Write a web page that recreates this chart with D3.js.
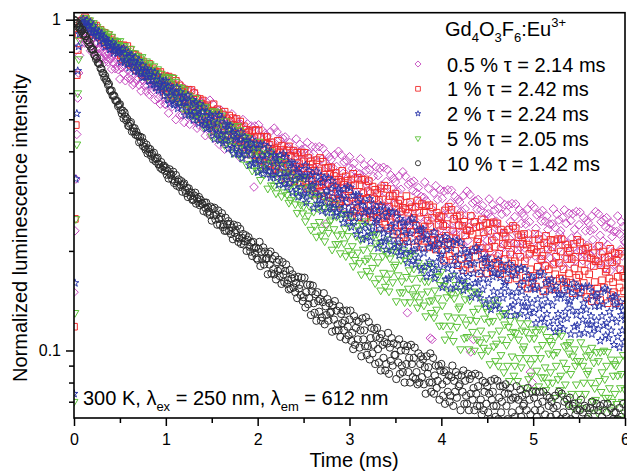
<!DOCTYPE html>
<html>
<head>
<meta charset="utf-8">
<script src="https://cdn.jsdelivr.net/npm/d3@7"></script>
<style>
  html, body { margin: 0; padding: 0; background: #fff; }
  svg { display: block; font-family: "Liberation Sans", Arial, sans-serif; }
</style>
</head>
<body>
<svg id="chart" width="627" height="471"></svg>
<script>
// normalized intensity x1000, one sample every timeStep ms starting at t = 0
// (one line = 0.1 ms)
const timeStep = 0.01

const eu05 = [
  150, 230, 330, 450, 580, 690, 780, 840, 880, 895,
  889, 946, 850, 891, 910, 847, 861, 896, 806, 868,
  879, 826, 797, 847, 773, 847, 818, 789, 819, 761,
  767, 805, 828, 743, 789, 762, 804, 745, 788, 761,
  762, 709, 778, 739, 786, 711, 758, 723, 707, 767,
  662, 762, 716, 778, 688, 729, 654, 775, 706, 667,
  729, 762, 661, 680, 635, 738, 644, 698, 723, 658,
  710, 634, 684, 609, 720, 657, 681, 632, 723, 607,
  631, 708, 594, 651, 680, 606, 630, 680, 573, 655,
  677, 613, 579, 645, 556, 653, 619, 586, 628, 556,
  554, 627, 674, 522, 612, 568, 648, 546, 628, 583,
  589, 499, 624, 558, 644, 514, 599, 541, 515, 624,
  489, 595, 546, 614, 519, 563, 483, 612, 541, 500,
  567, 602, 496, 516, 470, 579, 480, 537, 564, 496,
  552, 471, 526, 446, 565, 499, 525, 474, 571, 448,
  475, 556, 438, 498, 530, 453, 479, 532, 420, 509,
  533, 464, 429, 501, 406, 511, 476, 441, 486, 410,
  424, 481, 519, 399, 470, 435, 500, 419, 484, 449,
  454, 383, 483, 430, 499, 396, 464, 418, 398, 484,
  378, 462, 424, 477, 403, 437, 312, 477, 421, 388,
  446, 481, 380, 401, 357, 463, 369, 425, 453, 388,
  443, 366, 420, 343, 459, 396, 424, 374, 470, 352,
  379, 458, 343, 403, 435, 360, 386, 439, 331, 417,
  442, 375, 341, 412, 319, 425, 391, 357, 402, 328,
  342, 398, 436, 320, 390, 357, 420, 342, 405, 373,
  378, 308, 408, 356, 425, 323, 392, 347, 327, 414,
  307, 393, 355, 411, 335, 371, 308, 413, 356, 325,
  379, 408, 323, 341, 241, 393, 314, 361, 385, 330,
  377, 311, 357, 292, 391, 337, 360, 317, 400, 299,
  322, 390, 292, 343, 371, 307, 329, 375, 281, 356,
  385, 318, 284, 355, 262, 368, 334, 300, 345, 271,
  284, 342, 380, 262, 333, 299, 364, 284, 350, 316,
  321, 251, 352, 300, 369, 268, 336, 291, 271, 359,
  252, 338, 300, 356, 280, 316, 253, 358, 302, 270,
  324, 353, 269, 286, 249, 339, 260, 307, 331, 276,
  323, 257, 304, 238, 337, 284, 307, 264, 347, 246,
  269, 336, 239, 130, 318, 254, 276, 322, 230, 304,
  325, 268, 240, 300, 222, 311, 282, 254, 292, 230,
  241, 290, 323, 222, 283, 254, 309, 242, 109, 269,
  108, 213, 299, 255, 315, 227, 286, 248, 231, 306,
  215, 288, 256, 303, 239, 270, 218, 306, 259, 232,
  279, 305, 231, 247, 215, 292, 225, 266, 286, 239,
  281, 224, 264, 208, 294, 248, 268, 232, 303, 215,
  236, 296, 99, 255, 279, 108, 244, 283, 203, 267,
  286, 237, 212, 266, 197, 274, 250, 225, 259, 205,
  215, 259, 287, 199, 253, 227, 276, 217, 266, 241,
  246, 193, 269, 230, 283, 205, 258, 225, 209, 276,
  196, 262, 232, 275, 218, 245, 198, 278, 235, 211,
  254, 277, 210, 225, 196, 266, 205, 242, 260, 218,
  255, 204, 241, 190, 268, 226, 245, 86, 276, 80,
  216, 271, 193, 234, 257, 206, 224, 260, 187, 246,
  265, 219, 196, 246, 181, 255, 232, 209, 241, 190,
  200, 241, 268, 185, 235, 212, 258, 202, 248, 225,
  230, 180, 252, 216, 266, 192, 242, 210, 197, 260,
  183, 247, 219, 259, 205, 232, 187, 263, 222, 199,
  240, 262, 200, 213, 187, 252, 195, 230, 247, 208,
  243, 195, 230, 180, 255, 216, 233, 201, 263, 188,
  206, 259, 184, 223, 245, 196, 214, 249, 178, 236,
  252, 209, 188, 234, 174, 243, 221, 199, 229, 182,
  190, 229, 255, 177, 225, 202, 245, 193, 237, 215,
  212
]

const eu1 = [
  118, 250, 480, 680, 810, 900, 950, 975, 990, 996,
  982, 1004, 1017, 957, 985, 965, 990, 949, 973, 953,
  952, 907, 960, 926, 960, 898, 932, 902, 886, 932,
  866, 912, 885, 913, 866, 883, 843, 899, 862, 840,
  867, 880, 828, 834, 810, 857, 809, 832, 841, 807,
  838, 780, 815, 758, 837, 789, 805, 766, 832, 745,
  761, 812, 731, 769, 789, 734, 748, 782, 705, 761,
  774, 727, 701, 747, 681, 748, 722, 697, 724, 673,
  679, 714, 735, 656, 699, 675, 713, 660, 699, 674,
  675, 628, 689, 654, 695, 627, 668, 637, 622, 675,
  594, 663, 629, 673, 609, 636, 582, 666, 618, 589,
  632, 653, 582, 594, 563, 633, 567, 604, 620, 573,
  610, 556, 590, 537, 614, 569, 585, 550, 613, 531,
  547, 600, 520, 559, 578, 526, 541, 576, 500, 557,
  570, 525, 501, 546, 484, 551, 526, 503, 531, 481,
  482, 526, 555, 461, 515, 488, 536, 472, 522, 494,
  497, 442, 517, 476, 527, 449, 500, 465, 448, 513,
  432, 494, 464, 504, 447, 473, 425, 501, 458, 433,
  472, 492, 428, 439, 411, 476, 417, 450, 465, 424,
  457, 407, 441, 391, 462, 423, 438, 406, 464, 390,
  403, 462, 375, 419, 442, 386, 405, 443, 362, 425,
  442, 393, 367, 419, 351, 426, 401, 376, 408, 354,
  363, 404, 430, 345, 395, 370, 416, 358, 405, 379,
  383, 332, 402, 365, 414, 339, 388, 355, 341, 402,
  325, 386, 359, 396, 342, 368, 323, 397, 355, 332,
  373, 396, 326, 340, 310, 382, 317, 355, 373, 328,
  366, 312, 350, 296, 376, 332, 350, 316, 382, 299,
  318, 372, 293, 334, 356, 304, 321, 357, 283, 341,
  358, 312, 288, 337, 273, 344, 321, 297, 328, 277,
  286, 324, 349, 270, 317, 294, 336, 283, 326, 303,
  307, 253, 329, 290, 342, 264, 316, 282, 267, 333,
  253, 316, 287, 328, 272, 299, 252, 329, 287, 263,
  303, 325, 260, 274, 246, 313, 253, 288, 306, 264,
  299, 250, 285, 235, 309, 270, 286, 254, 315, 240,
  257, 308, 234, 272, 293, 244, 261, 294, 225, 280,
  298, 252, 229, 278, 214, 285, 263, 239, 270, 220,
  229, 267, 293, 214, 261, 239, 281, 228, 271, 249,
  252, 205, 272, 238, 284, 216, 261, 231, 218, 277,
  205, 262, 237, 273, 224, 247, 205, 275, 237, 216,
  252, 271, 215, 226, 202, 261, 208, 240, 255, 219,
  253, 201, 238, 187, 265, 222, 241, 208, 272, 193,
  211, 266, 188, 229, 250, 200, 218, 254, 181, 239,
  256, 212, 189, 238, 175, 245, 223, 200, 231, 182,
  191, 230, 255, 177, 224, 202, 245, 192, 236, 213,
  217, 171, 237, 204, 249, 182, 228, 197, 185, 243,
  171, 230, 204, 242, 190, 215, 173, 244, 206, 184,
  221, 242, 183, 196, 170, 232, 178, 210, 227, 189,
  221, 177, 208, 164, 232, 195, 211, 183, 238, 170,
  186, 234, 165, 201, 220, 176, 192, 223, 159, 210,
  225, 186, 166, 209, 154, 215, 196, 176, 203, 160,
  168, 202, 225, 156, 198, 179, 217, 170, 208, 189,
  193, 151, 211, 180, 222, 160, 202, 176, 163, 216,
  153, 205, 182, 215, 170, 192, 155, 217, 184, 165,
  199, 217, 165, 176, 153, 209, 161, 189, 204, 171,
  200, 160, 189, 149, 210, 177, 192, 166, 216, 155,
  169, 212, 150, 183, 201, 160, 174, 203, 145, 191,
  205, 170, 152, 190, 141, 197, 180, 161, 186, 147,
  154, 186, 207, 142, 181, 163, 199, 155, 191, 173,
  176, 139, 192, 165, 203, 147, 185, 161, 150, 197,
  139, 187, 167, 196, 155, 176, 142, 199, 168, 151,
  166
]

const eu2 = [
  74, 160, 330, 520, 700, 830, 905, 945, 968, 980,
  1005, 958, 983, 936, 995, 956, 965, 934, 982, 911,
  922, 960, 894, 921, 934, 889, 898, 922, 859, 900,
  908, 869, 848, 881, 828, 877, 856, 834, 853, 812,
  815, 840, 855, 793, 824, 805, 833, 791, 819, 799,
  800, 745, 815, 774, 820, 743, 789, 753, 735, 796,
  715, 773, 743, 779, 722, 745, 697, 768, 725, 699,
  734, 751, 689, 698, 669, 728, 670, 700, 713, 672,
  701, 654, 682, 635, 699, 660, 673, 641, 694, 622,
  636, 678, 611, 642, 658, 613, 624, 652, 588, 634,
  654, 603, 576, 627, 557, 631, 604, 577, 608, 553,
  560, 599, 624, 539, 586, 561, 604, 546, 589, 564,
  565, 514, 582, 544, 591, 517, 563, 530, 514, 573,
  497, 554, 526, 562, 508, 531, 486, 556, 515, 492,
  526, 544, 485, 495, 468, 526, 472, 501, 515, 476,
  510, 455, 492, 436, 515, 470, 487, 452, 516, 432,
  450, 503, 424, 463, 483, 431, 447, 482, 407, 464,
  478, 433, 410, 455, 393, 460, 436, 413, 441, 392,
  399, 434, 457, 381, 424, 403, 442, 390, 430, 407,
  409, 363, 425, 392, 434, 368, 410, 380, 367, 421,
  346, 409, 379, 420, 363, 389, 342, 418, 376, 351,
  391, 412, 348, 360, 333, 397, 339, 373, 389, 348,
  382, 333, 367, 317, 389, 350, 366, 335, 393, 319,
  335, 385, 312, 348, 368, 321, 337, 369, 300, 354,
  368, 327, 306, 348, 291, 354, 333, 312, 338, 293,
  297, 337, 363, 280, 329, 305, 349, 293, 338, 314,
  317, 269, 337, 301, 348, 278, 323, 292, 278, 337,
  264, 322, 296, 333, 281, 304, 261, 332, 293, 271,
  307, 326, 269, 280, 255, 314, 261, 292, 307, 270,
  301, 257, 287, 243, 308, 272, 288, 259, 313, 246,
  259, 310, 236, 273, 294, 245, 262, 295, 225, 280,
  295, 253, 231, 275, 217, 282, 261, 240, 267, 221,
  229, 264, 287, 214, 257, 237, 276, 227, 266, 245,
  248, 204, 265, 233, 275, 213, 255, 226, 214, 267,
  202, 253, 229, 263, 217, 238, 200, 262, 229, 209,
  242, 260, 206, 217, 194, 250, 199, 229, 244, 209,
  238, 196, 225, 184, 246, 212, 226, 199, 251, 187,
  201, 243, 182, 214, 231, 191, 204, 232, 175, 220,
  233, 197, 179, 217, 167, 223, 205, 186, 211, 171,
  178, 207, 228, 165, 202, 185, 218, 176, 210, 192,
  195, 155, 212, 183, 221, 164, 202, 177, 165, 216,
  154, 204, 181, 213, 170, 191, 155, 215, 182, 164,
  195, 212, 163, 173, 152, 203, 158, 185, 197, 167,
  193, 156, 182, 145, 200, 171, 183, 160, 205, 149,
  161, 200, 144, 173, 188, 153, 165, 190, 138, 180,
  191, 160, 143, 177, 133, 183, 167, 151, 172, 137,
  144, 171, 188, 134, 166, 151, 181, 144, 174, 158,
  161, 128, 175, 151, 183, 135, 168, 146, 137, 178,
  128, 169, 150, 176, 141, 158, 129, 178, 151, 136,
  162, 176, 136, 144, 127, 169, 132, 154, 165, 139,
  161, 130, 153, 121, 168, 143, 154, 134, 173, 125,
  137, 169, 122, 147, 160, 129, 140, 162, 118, 153,
  164, 137, 123, 152, 114, 157, 144, 129, 148, 118,
  124, 148, 163, 116, 144, 131, 157, 125, 151, 138,
  141, 112, 153, 132, 160, 118, 146, 128, 119, 156,
  112, 148, 132, 155, 124, 139, 113, 156, 133, 120,
  143, 156, 120, 127, 112, 150, 117, 136, 146, 123,
  144, 116, 136, 107, 150, 127, 138, 119, 154, 111,
  121, 152, 109, 131, 143, 115, 125, 145, 104, 137,
  146, 122, 110, 136, 102, 140, 128, 115, 132, 106,
  124
]

const eu5 = [
  70, 130, 250, 420, 600, 760, 870, 930, 965, 985,
  970, 1012, 988, 1012, 968, 984, 946, 997, 962, 941,
  966, 978, 928, 934, 909, 953, 907, 928, 936, 903,
  924, 885, 906, 867, 916, 884, 892, 867, 905, 848,
  857, 889, 834, 856, 867, 830, 838, 858, 805, 840,
  863, 810, 782, 832, 759, 833, 805, 776, 807, 749,
  756, 794, 817, 732, 778, 751, 793, 734, 777, 750,
  750, 698, 765, 726, 772, 697, 742, 708, 691, 749,
  672, 728, 699, 734, 679, 701, 656, 724, 683, 658,
  692, 709, 649, 658, 631, 687, 632, 661, 674, 634,
  669, 609, 646, 587, 671, 622, 638, 600, 668, 577,
  596, 650, 566, 605, 626, 570, 586, 622, 541, 600,
  615, 566, 540, 587, 520, 591, 565, 539, 568, 514,
  522, 558, 581, 501, 546, 521, 561, 506, 548, 523,
  524, 476, 540, 504, 546, 478, 520, 489, 473, 529,
  444, 518, 483, 529, 461, 492, 436, 525, 474, 444,
  490, 514, 438, 452, 418, 494, 424, 463, 482, 432,
  471, 415, 452, 395, 476, 430, 448, 411, 477, 392,
  410, 464, 382, 423, 444, 390, 406, 442, 365, 424,
  439, 392, 367, 415, 350, 420, 396, 371, 401, 349,
  351, 397, 428, 328, 386, 357, 408, 341, 393, 364,
  367, 309, 389, 346, 400, 316, 370, 333, 315, 385,
  299, 364, 333, 374, 315, 343, 293, 372, 327, 301,
  341, 362, 296, 309, 280, 346, 285, 319, 336, 293,
  327, 277, 311, 261, 332, 293, 308, 276, 334, 260,
  273, 331, 246, 289, 311, 256, 274, 312, 232, 295,
  310, 263, 238, 287, 221, 294, 269, 245, 275, 223,
  232, 270, 295, 214, 262, 239, 281, 227, 270, 246,
  249, 202, 267, 233, 278, 210, 254, 223, 210, 267,
  197, 251, 225, 259, 211, 234, 193, 258, 222, 200,
  237, 258, 195, 207, 180, 246, 188, 222, 238, 198,
  231, 184, 216, 170, 241, 202, 218, 187, 246, 174,
  190, 237, 168, 204, 223, 178, 193, 224, 160, 211,
  225, 185, 165, 208, 152, 213, 193, 172, 200, 156,
  164, 196, 217, 151, 190, 171, 207, 161, 199, 179,
  182, 141, 199, 169, 207, 150, 188, 162, 150, 201,
  140, 187, 167, 196, 154, 175, 140, 197, 165, 148,
  177, 193, 146, 155, 135, 184, 140, 166, 178, 148,
  173, 137, 162, 127, 180, 151, 162, 141, 183, 130,
  142, 177, 126, 152, 167, 133, 144, 168, 119, 158,
  173, 137, 119, 157, 108, 163, 145, 127, 151, 112,
  119, 148, 168, 107, 144, 126, 158, 118, 151, 134,
  136, 101, 151, 126, 160, 109, 143, 120, 110, 155,
  101, 142, 124, 150, 114, 131, 100, 151, 123, 108,
  134, 148, 106, 115, 97, 140, 102, 125, 135, 109,
  131, 100, 122, 91, 137, 112, 123, 103, 142, 93,
  105, 137, 90, 115, 127, 97, 108, 129, 86, 120,
  130, 104, 90, 118, 81, 123, 110, 96, 114, 84,
  90, 113, 127, 81, 108, 95, 121, 89, 115, 101,
  103, 77, 114, 95, 121, 82, 109, 91, 84, 116,
  76, 109, 95, 114, 87, 101, 78, 116, 95, 83,
  104, 116, 83, 89, 76, 110, 80, 98, 107, 86,
  104, 80, 97, 72, 110, 90, 99, 82, 113, 76,
  84, 111, 73, 92, 103, 79, 88, 104, 69, 98,
  106, 85, 74, 96, 67, 101, 90, 79, 93, 70,
  74, 93, 106, 67, 90, 80, 101, 74, 96, 85,
  87, 65, 97, 80, 102, 70, 92, 77, 71, 99,
  65, 93, 81, 99, 75, 86, 66, 100, 82, 72,
  90, 99, 72, 77, 66, 94, 70, 84, 91, 74,
  90, 69, 84, 62, 94, 77, 85, 70, 97, 65,
  76
]

const eu10 = [
  1001, 977, 991, 971, 978, 947, 954, 935, 922, 933,
  901, 910, 892, 892, 867, 865, 842, 854, 831, 815,
  815, 811, 784, 778, 760, 767, 741, 739, 734, 713,
  711, 690, 689, 668, 676, 657, 651, 635, 639, 613,
  607, 611, 589, 591, 588, 571, 568, 568, 548, 553,
  555, 533, 520, 531, 503, 524, 510, 496, 501, 478,
  477, 485, 490, 459, 471, 460, 470, 449, 458, 447,
  444, 426, 443, 429, 440, 415, 425, 412, 405, 419,
  394, 408, 398, 406, 388, 393, 378, 396, 382, 373,
  380, 383, 365, 366, 357, 371, 353, 360, 362, 349,
  357, 340, 349, 331, 353, 339, 341, 329, 347, 321,
  325, 339, 315, 324, 329, 312, 317, 325, 302, 317,
  320, 306, 299, 310, 291, 309, 301, 293, 300, 285,
  286, 294, 300, 278, 288, 282, 291, 275, 285, 278,
  277, 264, 280, 270, 280, 261, 271, 263, 257, 272,
  247, 268, 256, 270, 249, 257, 240, 265, 250, 240,
  253, 260, 236, 240, 230, 252, 230, 241, 246, 230,
  241, 225, 235, 217, 240, 227, 231, 220, 238, 213,
  218, 233, 210, 219, 225, 209, 214, 223, 200, 216,
  220, 206, 199, 212, 193, 213, 204, 197, 205, 190,
  188, 203, 213, 180, 199, 189, 205, 182, 199, 189,
  190, 170, 196, 182, 199, 171, 189, 176, 170, 193,
  164, 185, 174, 188, 168, 176, 159, 185, 170, 161,
  174, 182, 159, 163, 153, 175, 154, 165, 170, 155,
  166, 150, 160, 144, 167, 154, 158, 147, 166, 141,
  145, 166, 135, 150, 158, 138, 144, 158, 128, 151,
  157, 139, 130, 148, 123, 150, 141, 131, 143, 123,
  126, 140, 149, 120, 136, 128, 143, 123, 139, 130,
  131, 114, 137, 124, 141, 115, 132, 120, 115, 136,
  110, 129, 121, 132, 115, 123, 108, 132, 118, 111,
  124, 132, 107, 113, 101, 127, 104, 117, 123, 108,
  122, 102, 115, 96, 125, 108, 115, 103, 126, 97,
  103, 122, 94, 109, 117, 98, 104, 116, 91, 110,
  117, 101, 92, 109, 87, 112, 104, 95, 106, 87,
  91, 105, 113, 85, 102, 93, 109, 90, 105, 97,
  97, 82, 104, 92, 108, 85, 100, 90, 86, 104,
  80, 100, 91, 103, 86, 95, 80, 104, 91, 83,
  95, 102, 82, 86, 79, 98, 80, 91, 96, 83,
  94, 79, 89, 74, 96, 85, 89, 80, 98, 75,
  80, 95, 74, 84, 90, 77, 81, 90, 71, 87,
  91, 79, 73, 86, 69, 87, 81, 75, 84, 70,
  73, 83, 90, 68, 81, 75, 86, 72, 84, 78,
  79, 66, 84, 75, 87, 69, 81, 73, 69, 85,
  66, 82, 74, 84, 71, 77, 66, 85, 74, 68,
  78, 84, 68, 71, 64, 81, 66, 75, 80, 69,
  78, 65, 74, 62, 81, 71, 75, 68, 82, 63,
  68, 81, 62, 72, 78, 65, 70, 78, 60, 74,
  79, 68, 62, 74, 59, 77, 71, 65, 72, 60,
  63, 72, 78, 60, 71, 66, 76, 63, 73, 68,
  69, 58, 74, 66, 77, 61, 71, 64, 61, 75,
  58, 72, 66, 75, 63, 69, 59, 75, 66, 61,
  70, 75, 61, 64, 58, 73, 60, 68, 72, 63,
  70, 59, 67, 56, 73, 64, 68, 61, 75, 58,
  62, 74, 57, 65, 70, 59, 63, 71, 55, 68,
  72, 62, 57, 68, 53, 69, 64, 59, 66, 55,
  58, 66, 71, 55, 65, 60, 68, 57, 67, 62,
  63, 53, 67, 60, 70, 56, 66, 59, 57, 69,
  54, 66, 60, 68, 57, 63, 54, 69, 61, 56,
  65, 69, 56, 59, 54, 67, 55, 62, 65, 57,
  65, 55, 62, 52, 67, 59, 63, 56, 69, 54,
  60
]

const concentrations = ['0.5 %', '1 %', '2 %', '5 %', '10 %']
const lifetimes = ['2.14', '2.42', '2.24', '2.05', '1.42']
const xTicks = [0, 1, 2, 3, 4, 5, 6]
const xMinorTicks = [0.5, 1.5, 2.5, 3.5, 4.5, 5.5]
const yTicks = [0.1, 1]
const yMinorTicks = [0.07, 0.08, 0.09, 0.2, 0.3, 0.4, 0.5, 0.6, 0.7, 0.8, 0.9]

// hollow origin-style markers
const symDiamond = {
  draw(ctx, size) {
    const r = Math.sqrt(size) / 2
    ctx.moveTo(0, -r); ctx.lineTo(r, 0); ctx.lineTo(0, r); ctx.lineTo(-r, 0); ctx.closePath()
  },
}
const symTriDown = {
  draw(ctx, size) {
    const r = Math.sqrt(size) / 2
    ctx.moveTo(-r, -0.58 * r); ctx.lineTo(r, -0.58 * r); ctx.lineTo(0, 1.15 * r); ctx.closePath()
  },
}

const series = [
  { values: eu05, color: '#c64cc0', type: symDiamond, size: 74 },
  { values: eu1, color: '#f22b2b', type: d3.symbolSquare, size: 44 },
  { values: eu2, color: '#2c38aa', type: d3.symbolStar, size: 19 },
  { values: eu5, color: '#5cc23a', type: symTriDown, size: 62 },
  { values: eu10, color: '#2a2a2a', type: d3.symbolCircle, size: 42 },
]
const drawOrder = [0, 1, 3, 2, 4]

const svg = d3.select('#chart')
const plot = { left: 74, right: 625, top: 12.7, bottom: 418 }

const x = d3.scaleLinear().domain([0, 6]).range([plot.left, plot.right])
const y = d3.scaleLog().domain([0.0625, 1.05]).range([plot.bottom, plot.top])

svg.append('defs').append('clipPath').attr('id', 'plotClip')
  .append('rect')
  .attr('x', plot.left).attr('y', plot.top)
  .attr('width', plot.right - plot.left).attr('height', plot.bottom - plot.top)

const dots = svg.append('g').attr('clip-path', 'url(#plotClip)')

drawOrder.forEach((k) => {
  const s = series[k]
  const sym = d3.symbol().type(s.type).size(s.size)
  dots.append('g')
    .selectAll('path')
    .data(s.values.map((v, i) => [i * timeStep, v / 1000]))
    .join('path')
    .attr('d', sym)
    .attr('transform', (d) => `translate(${x(d[0]).toFixed(1)},${y(d[1]).toFixed(1)})`)
    .attr('fill', 'none')
    .attr('stroke', s.color)
    .attr('stroke-width', 1)
})

// frame
svg.append('rect')
  .attr('x', plot.left).attr('y', plot.top)
  .attr('width', plot.right - plot.left).attr('height', plot.bottom - plot.top)
  .attr('fill', 'none').attr('stroke', '#000').attr('stroke-width', 1.6)

function styleAxis(g) {
  g.select('.domain').remove()
  g.selectAll('line').attr('stroke', '#000').attr('stroke-width', 1.5)
  g.selectAll('text').attr('fill', '#000').style('font-size', '16px')
    .style('font-family', '"Liberation Sans", Arial, sans-serif')
}

svg.append('g')
  .attr('transform', `translate(0,${plot.bottom})`)
  .call(d3.axisBottom(x).tickValues(xTicks).tickFormat(d3.format('d')).tickSize(8).tickSizeOuter(0).tickPadding(8))
  .call(styleAxis)
svg.append('g')
  .attr('transform', `translate(0,${plot.bottom})`)
  .call(d3.axisBottom(x).tickValues(xMinorTicks).tickFormat('').tickSize(5).tickSizeOuter(0))
  .call(styleAxis)

svg.append('g')
  .attr('transform', `translate(${plot.left},0)`)
  .call(d3.axisLeft(y).tickValues(yTicks).tickFormat((d) => String(d)).tickSize(8).tickSizeOuter(0).tickPadding(5))
  .call(styleAxis)
svg.append('g')
  .attr('transform', `translate(${plot.left},0)`)
  .call(d3.axisLeft(y).tickValues(yMinorTicks).tickFormat('').tickSize(5).tickSizeOuter(0))
  .call(styleAxis)

// axis titles
svg.append('text')
  .attr('x', 354).attr('y', 467)
  .attr('text-anchor', 'middle')
  .style('font-size', '20px')
  .text('Time (ms)')

svg.append('text')
  .attr('transform', 'translate(27,228) rotate(-90)')
  .attr('text-anchor', 'middle')
  .style('font-size', '20px')
  .text('Normalized luminescence intensity')

// legend
const title = svg.append('text').attr('x', 445).attr('y', 36).style('font-size', '20px')
title.append('tspan').text('Gd')
title.append('tspan').attr('dy', 6).style('font-size', '13px').text('4')
title.append('tspan').attr('dy', -6).text('O')
title.append('tspan').attr('dy', 6).style('font-size', '13px').text('3')
title.append('tspan').attr('dy', -6).text('F')
title.append('tspan').attr('dy', 6).style('font-size', '13px').text('6')
title.append('tspan').attr('dy', -6).text(':Eu')
title.append('tspan').attr('dy', -9).style('font-size', '13px').text('3+')

const legend = svg.append('g')
series.forEach((s, i) => {
  const rowY = 64 + i * 24.8
  legend.append('path')
    .attr('d', d3.symbol().type(s.type).size(s.size * 0.5))
    .attr('transform', `translate(418,${rowY})`)
    .attr('fill', 'none')
    .attr('stroke', s.color)
    .attr('stroke-width', 0.9)
  legend.append('text')
    .attr('x', 447).attr('y', rowY + 7.5)
    .style('font-size', '20px')
    .text(`${concentrations[i]} \u03c4 = ${lifetimes[i]} ms`)
})

// measurement conditions
const note = svg.append('text').attr('x', 83).attr('y', 405).style('font-size', '20px')
note.append('tspan').text('300 K, \u03bb')
note.append('tspan').attr('dy', 6).style('font-size', '13px').text('ex')
note.append('tspan').attr('dy', -6).text(' = 250 nm, \u03bb')
note.append('tspan').attr('dy', 6).style('font-size', '13px').text('em')
note.append('tspan').attr('dy', -6).text(' = 612 nm')
</script>
</body>
</html>
